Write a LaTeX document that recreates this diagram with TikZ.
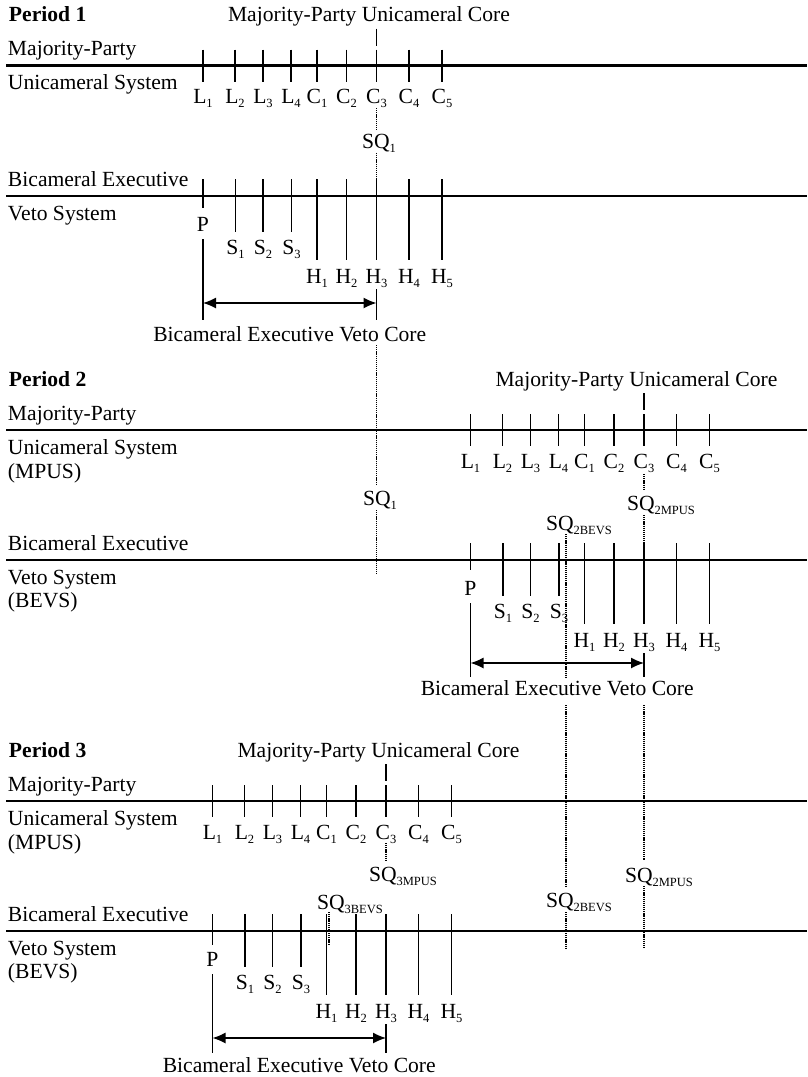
\documentclass[tikz,border=0pt]{standalone}
\usepackage{fontspec}
\setmainfont{Liberation Serif}
\usetikzlibrary{arrows.meta}
\newcommand{\lo}[1]{\raisebox{-4pt}{\fontsize{12.5}{13}\selectfont #1}}
\newcommand{\fs}{\fontsize{21.6}{26}\selectfont}
\newcommand{\drawperiod}[8]{%
  \node[lbl, font=\fs\bfseries] (per#1) at (9,{#2-44}) {Period #1};
  \node[lbl] (mc#1) at ({228+#4},{#2-44}) {Majority-Party Unicameral Core};
  \coordinate (mla#1) at (6,#2); \coordinate (mra#1) at (807,#2);
  \coordinate (bla#1) at (6,#3); \coordinate (bra#1) at (807,#3);
  \draw[axis] (mla#1) -- (mra#1);
  \draw[axis] (bla#1) -- (bra#1);
  \node[lbl] (mp#1) at (8,{#2-10}) {Majority-Party};
  \node[lbl] (us#1) at (8,{#2+24}) {Unicameral System};
  \node[lbl] (be#1) at (8,{#3-10}) {Bicameral Executive};
  \node[lbl] (vs#1) at (8,{#3+24}) {Veto System};
  \coordinate (ct#1) at ({376.5+#4},{#2-37});
  \coordinate (cb#1) at ({376.5+#4},{#2-20});
  \draw[tick] (ct#1) -- (cb#1);
  \foreach \x/\t [count=\i] in {203/L\lo{1},235/L\lo{2},263/L\lo{3},291/L\lo{4},317/C\lo{1},346.5/C\lo{2},376.5/C\lo{3},409/C\lo{4},442/C\lo{5}}{
    \coordinate (mt#1-\i) at ({\x+#4},{#2-16});
    \coordinate (mb#1-\i) at ({\x+#4},{#2+16});
    \draw[tick] (mt#1-\i) -- (mb#1-\i);
    \node[tlbl] (mlab#1-\i) at ({\x+#4},{#2+38}) {\t};
  }
  \foreach \x/\t/\len/\ly [count=\i] in {203/P/#8/35,235.5/S\lo{1}/36/58,263/S\lo{2}/36/58,291.5/S\lo{3}/36/58,317/H\lo{1}/64/87,346.5/H\lo{2}/64/87,376.5/H\lo{3}/64/87,409/H\lo{4}/64/87,442/H\lo{5}/64/87}{
    \coordinate (bt#1-\i) at ({\x+#4},{#3-17});
    \coordinate (bb#1-\i) at ({\x+#4},{#3+\len});
    \draw[tick] (bt#1-\i) -- (bb#1-\i);
    \node[tlbl] (blab#1-\i) at ({\x+#4},{#3+\ly}) {\t};
  }
  \coordinate (pe#1) at ({203+#4},{#3+43});
  \coordinate (pf#1) at ({203+#4},#6);
  \coordinate (he#1) at ({376.5+#4},{#3+93});
  \coordinate (hf#1) at ({376.5+#4},#6);
  \draw[tick] (pe#1) -- (pf#1);
  \draw[tick] (he#1) -- (hf#1);
  \coordinate (ap#1) at ({203+#4},#5);
  \coordinate (ah#1) at ({376.5+#4},#5);
  \draw[corearrow] (ap#1) -- (ah#1);
  \node[tlbl] (bc#1) at ({289.75+#4},#7) {Bicameral Executive Veto Core};
}
\begin{document}
\begin{tikzpicture}[x=1pt,y=-1pt,
  txt/.style={inner sep=0pt, outer sep=0pt, font=\fs},
  lbl/.style={txt, anchor=base west},
  tlbl/.style={txt, anchor=base},
  axis/.style={line width=2.8pt},
  tick/.style={line width=1.6pt},
  sqline/.style={line width=1.3pt, dash pattern=on 1.2pt off 0.9pt},
  corearrow/.style={line width=1.3pt, {Latex[length=13pt,width=11pt]}-{Latex[length=13pt,width=11pt]}}]
\useasboundingbox (0,0) rectangle (807,1077);

\drawperiod{1}{65.5}{196}{0}{303}{320}{341}{12}
\drawperiod{2}{430}{560}{267.5}{663}{677}{695}{10}
\drawperiod{3}{801}{931}{9.5}{1038}{1053}{1072}{14}

\node[lbl] (mpus2) at (8,478) {(MPUS)};
\node[lbl] (bevs2) at (8,607) {(BEVS)};
\node[lbl] (mpus3) at (8,849) {(MPUS)};
\node[lbl] (bevs3) at (8,978) {(BEVS)};

% status quo labels
\node[lbl] (sq1a) at (362,148) {SQ\lo{1}};
\node[lbl] (sq1b) at (363,505) {SQ\lo{1}};
\node[lbl] (sq2ma) at (627,510) {SQ\lo{2MPUS}};
\node[lbl] (sq2ba) at (546,530) {SQ\lo{2BEVS}};
\node[lbl] (sq3m) at (369,881) {SQ\lo{3MPUS}};
\node[lbl] (sq3b) at (317,909) {SQ\lo{3BEVS}};
\node[lbl] (sq2bb) at (546,907) {SQ\lo{2BEVS}};
\node[lbl] (sq2mb) at (625,882) {SQ\lo{2MPUS}};

% SQ1 dotted line
\coordinate (q1a) at (376.5,108); \coordinate (q1b) at (376.5,131);
\coordinate (q1c) at (376.5,153); \coordinate (q1d) at (376.5,179);
\coordinate (q1e) at (376.5,345); \coordinate (q1f) at (376.5,484);
\coordinate (q1g) at (376.5,510); \coordinate (q1h) at (376.5,575);
\draw[sqline] (q1a) -- (q1b);
\draw[sqline] (q1c) -- (q1d);
\draw[sqline] (q1e) -- (q1f);
\draw[sqline] (q1g) -- (q1h);
% SQ2MPUS dotted line
\coordinate (q2a) at (644,474); \coordinate (q2b) at (644,490);
\coordinate (q2c) at (644,515); \coordinate (q2d) at (644,543);
\coordinate (q2e) at (644,705); \coordinate (q2f) at (644,860);
\coordinate (q2g) at (644,886); \coordinate (q2h) at (644,948);
\draw[sqline] (q2a) -- (q2b);
\draw[sqline] (q2c) -- (q2d);
\draw[sqline] (q2e) -- (q2f);
\draw[sqline] (q2g) -- (q2h);
% SQ2BEVS dotted line
\coordinate (q3a) at (566,534); \coordinate (q3b) at (566,677);
\coordinate (q3c) at (566,705); \coordinate (q3d) at (566,887);
\coordinate (q3e) at (566,912); \coordinate (q3f) at (566,948);
\draw[sqline] (q3a) -- (q3b);
\draw[sqline] (q3c) -- (q3d);
\draw[sqline] (q3e) -- (q3f);
% SQ3MPUS and SQ3BEVS
\coordinate (q4a) at (386,843); \coordinate (q4b) at (386,861);
\draw[sqline] (q4a) -- (q4b);
\coordinate (q5a) at (329,912); \coordinate (q5b) at (329,945);
\draw[sqline] (q5a) -- (q5b);
\end{tikzpicture}
\end{document}
